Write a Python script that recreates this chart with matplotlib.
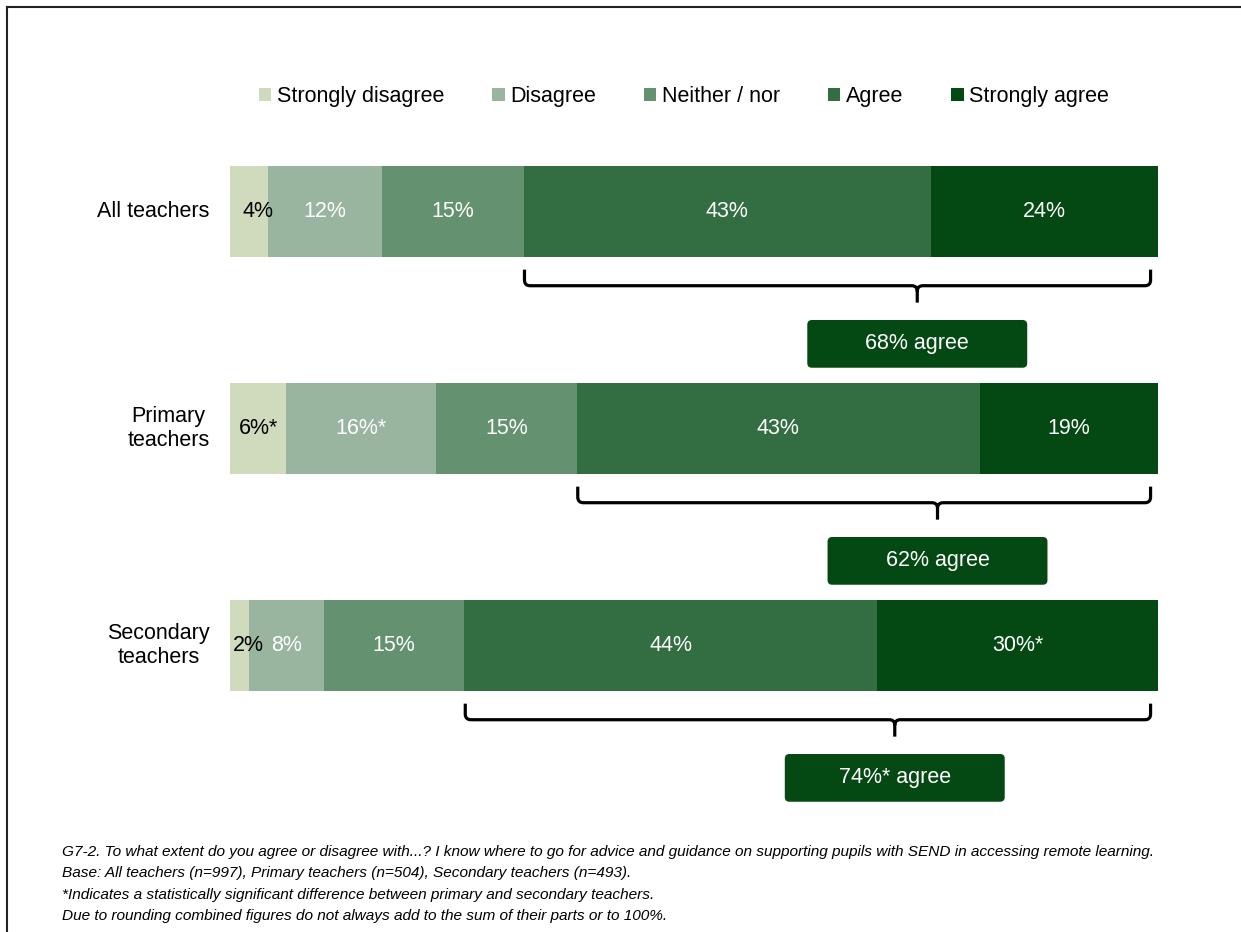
import matplotlib.pyplot as plt
from matplotlib import font_manager
from matplotlib.lines import Line2D
from matplotlib.patches import Patch, FancyBboxPatch, PathPatch
from matplotlib.path import Path
import numpy as np

plt.rcParams['font.family'] = ['Liberation Sans', 'DejaVu Sans']

# data
groups = ["All teachers", "Primary\nteachers", "Secondary\nteachers"]
responses = ["Strongly disagree", "Disagree", "Neither / nor", "Agree", "Strongly agree"]
all_teachers = [4, 12, 15, 43, 24]
primary = [6, 16, 15, 43, 19]
secondary = [2, 8, 15, 44, 30]
value_labels = [
    ["4%", "12%", "15%", "43%", "24%"],
    ["6%*", "16%*", "15%", "43%", "19%"],
    ["2%", "8%", "15%", "44%", "30%*"],
]
agree_labels = ["68% agree", "62% agree", "74%* agree"]
footnotes = [
    "G7-2. To what extent do you agree or disagree with...? I know where to go for advice and guidance on supporting pupils with SEND in accessing remote learning.",
    "Base: All teachers (n=997), Primary teachers (n=504), Secondary teachers (n=493).",
    "*Indicates a statistically significant difference between primary and secondary teachers.",
    "Due to rounding combined figures do not always add to the sum of their parts or to 100%.",
]

colors = ["#D0DBBE", "#99B59F", "#64916F", "#336D42", "#044814"]
text_colors = ["black", "white", "white", "white", "white"]

W, H = 1241, 932
fig = plt.figure(figsize=(W / 100, H / 100), dpi=100)

# axes: x 0..100 maps to pixels 230..1158, rows 217 px apart
ax = fig.add_axes([230 / W, 0, 928 / W, 1])
ax.set_xlim(0, 100)
ax.set_ylim((H - 211.5) / 217, -211.5 / 217)
ax.axis("off")

rows = [all_teachers, primary, secondary]
bar_h = 91 / 217
fs = 15.5

for i, vals in enumerate(rows):
    vals = np.array(vals, dtype=float)
    shares = vals / vals.sum() * 100
    left = 0.0
    for j, w in enumerate(shares):
        ax.barh(i, w, left=left, height=bar_h, color=colors[j], edgecolor="none")
        cx = left + w / 2
        if w < 5:
            cx += 1.0
        ax.text(cx, i, value_labels[i][j], ha="center", va="center",
                color=text_colors[j], fontsize=fs)
        left += w

    # brace under agree + strongly agree
    x0 = shares[:3].sum() + 0.1
    x1 = 99.2
    tip = x0 + 0.62 * (100 - x0)
    y_top, y_h, y_tip = i + 0.268, i + 0.342, i + 0.42
    rx, ry = 0.6, 0.026
    verts = [
        (x0, y_top), (x0, y_h - ry), (x0, y_h), (x0 + rx, y_h),
        (tip - rx, y_h), (tip, y_h), (tip, y_h + ry), (tip, y_tip),
        (tip, y_h + ry), (tip, y_h), (tip + rx, y_h),
        (x1 - rx, y_h), (x1, y_h), (x1, y_h - ry), (x1, y_top),
    ]
    codes = [
        Path.MOVETO, Path.LINETO, Path.CURVE3, Path.CURVE3,
        Path.LINETO, Path.CURVE3, Path.CURVE3, Path.LINETO,
        Path.MOVETO, Path.CURVE3, Path.CURVE3,
        Path.LINETO, Path.CURVE3, Path.CURVE3, Path.LINETO,
    ]
    ax.add_patch(PathPatch(Path(verts, codes), fill=False, lw=2.3,
                           edgecolor="black", capstyle="butt", joinstyle="round",
                           clip_on=False))

    # summary box
    bw = 23.7
    by0, by1 = i + 0.5, i + 0.72
    box = FancyBboxPatch((tip - bw / 2, by0), bw, by1 - by0,
                         boxstyle="round,pad=0,rounding_size=0.5",
                         mutation_aspect=0.043, facecolor=colors[4],
                         edgecolor="none", clip_on=False)
    ax.add_patch(box)
    ax.text(tip, (by0 + by1) / 2, agree_labels[i], ha="center", va="center",
            color="white", fontsize=fs)

    # row label
    ax.text(-2.2, i, groups[i], ha="right", va="center", multialignment="center",
            fontsize=fs, clip_on=False)

# legend
handles = [Patch(facecolor=c, edgecolor="none") for c in colors]
fig.legend(handles, responses, loc="center", bbox_to_anchor=(684 / W, 1 - 97 / H),
           ncol=5, frameon=False, fontsize=fs, handlelength=0.56, handleheight=0.56,
           handletextpad=0.25, columnspacing=2.25, borderpad=0, borderaxespad=0)

# footnotes
names = {f.name for f in font_manager.fontManager.ttflist}
if "Liberation Sans Narrow" in names:
    foot_family, foot_fs = "Liberation Sans Narrow", 12.6
else:
    foot_family, foot_fs = "Liberation Sans", 11.1
for k, line in enumerate(footnotes):
    fig.text(62 / W, 1 - (852 + 21.3 * k) / H, line, ha="left", va="center",
             fontsize=foot_fs, style="italic", family=foot_family)

# frame lines (left and top)
fig.add_artist(Line2D([6.5 / W, 6.5 / W], [0, 1 - 6.5 / H], transform=fig.transFigure,
                      color="#222222", lw=1.5))
fig.add_artist(Line2D([6.5 / W, 1], [1 - 6.5 / H, 1 - 6.5 / H], transform=fig.transFigure,
                      color="#222222", lw=1.5))

fig.savefig("out.png", dpi=100)
